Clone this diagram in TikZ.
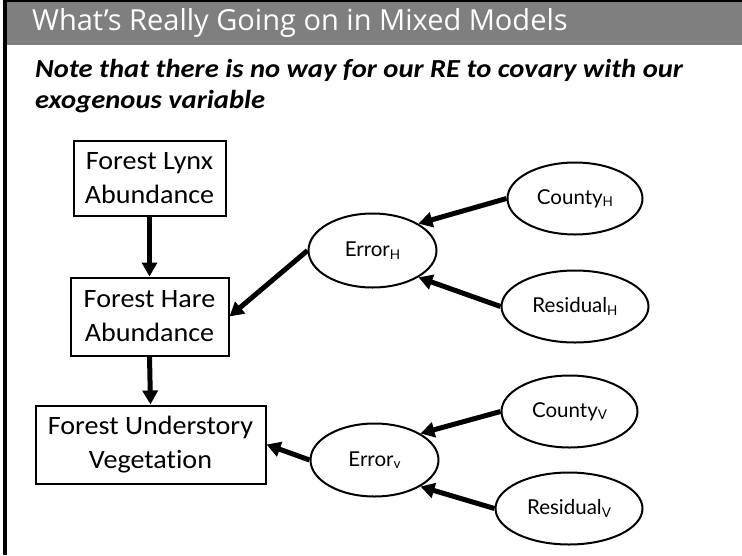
\documentclass[tikz,border=0pt]{standalone}
\usepackage{fontspec}
\setmainfont{Carlito}
\newfontfamily\notefont[FakeStretch=1.1,Ligatures=NoCommon]{Carlito}
\newfontfamily\boxfont[FakeStretch=1.06,Ligatures=NoCommon]{Carlito}
\newfontfamily\ovalfont{Lato}
\newfontfamily\titlefont{Open Sans}
\usetikzlibrary{shapes.geometric,arrows.meta}
\definecolor{barGray}{HTML}{7F7F7F}
% small lowered index used in the oval labels
\newcommand\lowsub[1]{{\fontsize{13.5pt}{13.5pt}\selectfont\raisebox{-2.5pt}{#1}}}

\begin{document}
\begin{tikzpicture}[x=1pt,y=-1pt,
  factor/.style={draw, line width=2pt, align=center, inner sep=0pt,
    font=\boxfont\fontsize{26.5pt}{34pt}\selectfont},
  latent/.style={draw, ellipse, line width=2pt, inner sep=0pt,
    font=\ovalfont\fontsize{20.5pt}{24pt}\selectfont},
  effect/.style={line width=5pt, -{Triangle[length=14pt,width=15pt]}}]
\useasboundingbox (0,0) rectangle (742,555);

% title bar and slide frame
\fill[barGray] (7,1.5) rectangle (742,45);
\draw[line width=4pt] (5,0) -- (5,555);
\draw[line width=1.5pt] (3,0.75) -- (742,0.75);
\node[anchor=base west, inner sep=0pt, text=white,
  font=\titlefont\fontsize{29pt}{32pt}\selectfont] (title) at (32,30)
  {What’s Really Going on in Mixed Models};

% subtitle
\node[anchor=north west, inner sep=0pt, align=left,
  font=\notefont\bfseries\itshape\fontsize{26pt}{30.5pt}\selectfont] (note) at (35,59.5)
  {Note that there is no way for our RE to covary with our\\exogenous variable};

% observed variables
\node[factor, minimum width=152pt, minimum height=75pt] (lynx) at (149.5,178.5) {Forest Lynx\\Abundance};
\node[factor, minimum width=158pt, minimum height=78pt] (hare) at (149.5,316.5) {Forest Hare\\Abundance};
\node[factor, minimum width=230pt, minimum height=78pt] (und) at (150.5,444.5) {Forest Understory\\Vegetation};

% error terms and their sources
\node[latent, minimum width=128pt, minimum height=74pt] (eH) at (372.5,250.5) {Error\lowsub{H}};
\node[latent, minimum width=135pt, minimum height=72pt] (cH) at (575,198.5) {County\lowsub{H}};
\node[latent, minimum width=147pt, minimum height=72pt] (rH) at (575,306.5) {Residual\lowsub{H}};
\node[latent, minimum width=128pt, minimum height=73pt] (eV) at (374.5,460) {Error\lowsub{v}};
\node[latent, minimum width=136pt, minimum height=72pt] (cV) at (569.5,411.5) {County\lowsub{V}};
\node[latent, minimum width=147pt, minimum height=72pt] (rV) at (569,508.5) {Residual\lowsub{V}};

% paths
\draw[effect] (lynx.south) -- (hare.north);
\draw[effect] (hare.south) -- (und.north);
\draw[effect] (eH.west) -- (hare.east);
\draw[effect] (cH.west) -- (eH.north east);
\draw[effect] (rH.west) -- (eH.south east);
\draw[effect] (eV.west) -- (und.east);
\draw[effect] (cV.west) -- (eV.north east);
\draw[effect] (rV.west) -- (eV.south east);
\end{tikzpicture}
\end{document}
